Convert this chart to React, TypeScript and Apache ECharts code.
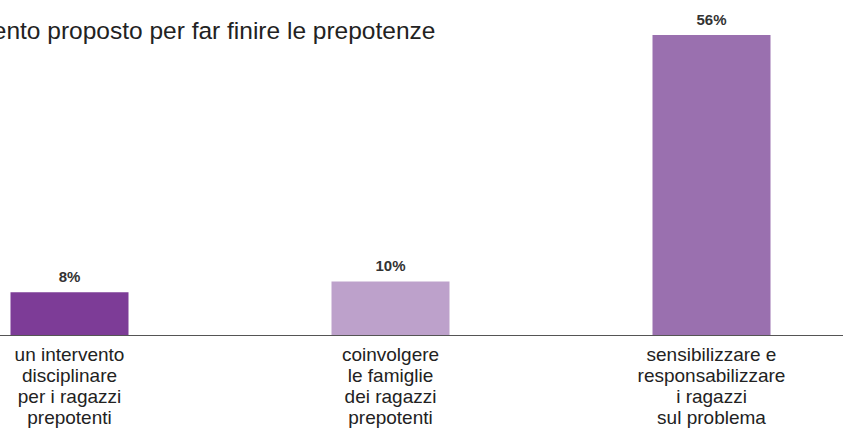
import React, { useEffect, useRef } from "react";
import * as echarts from "echarts";

const titleText = "Intervento proposto per far finire le prepotenze";
const categories = [
  "un intervento\ndisciplinare\nper i ragazzi\nprepotenti",
  "coinvolgere\nle famiglie\ndei ragazzi\nprepotenti",
  "sensibilizzare e\nresponsabilizzare\ni ragazzi\nsul problema",
];
const values = [8, 10, 56];
const barColors = ["#7D3C97", "#BDA1CB", "#9A70AF"];

const OFFSET = -91.5;
const CHART_W = 963;

export default function App() {
  const ref = useRef<HTMLDivElement>(null);
  useEffect(() => {
    if (!ref.current) return;
    const chart = echarts.init(ref.current, null, { renderer: "svg" });
    const font = "'Liberation Sans', Arial, Helvetica, sans-serif";
    chart.setOption({
      animation: false,
      backgroundColor: "#ffffff",
      graphic: [
        {
          type: "text",
          x: -69 - OFFSET,
          y: 30,
          style: {
            text: titleText,
            font: `24.5px ${font}`,
            fill: "#222222",
            textVerticalAlign: "middle",
          },
        },
      ],
      grid: { left: 0, right: 0, top: 35, bottom: 94, containLabel: false },
      xAxis: {
        type: "category",
        data: categories,
        axisLine: { show: true, lineStyle: { color: "#555555", width: 1 } },
        axisTick: { show: false },
        axisLabel: {
          interval: 0,
          fontFamily: font,
          fontSize: 19,
          lineHeight: 21,
          color: "#222222",
          margin: 9,
        },
      },
      yAxis: {
        type: "value",
        min: 0,
        max: 56,
        show: false,
        splitLine: { show: false },
      },
      series: [
        {
          type: "bar",
          barWidth: 118,
          data: values.map((v, i) => ({ value: v, itemStyle: { color: barColors[i] } })),
          label: {
            show: true,
            position: "top",
            distance: 8,
            formatter: "{c}%",
            fontFamily: font,
            fontWeight: "bold",
            fontSize: 15,
            color: "#333333",
          },
        },
      ],
    });
    return () => chart.dispose();
  }, []);
  return (
    <div style={{ position: "fixed", left: 0, top: 0, width: 843, height: 429, overflow: "hidden", background: "#fff" }}>
      <div ref={ref} style={{ position: "absolute", left: OFFSET, top: 0, width: CHART_W, height: 429 }} />
    </div>
  );
}
